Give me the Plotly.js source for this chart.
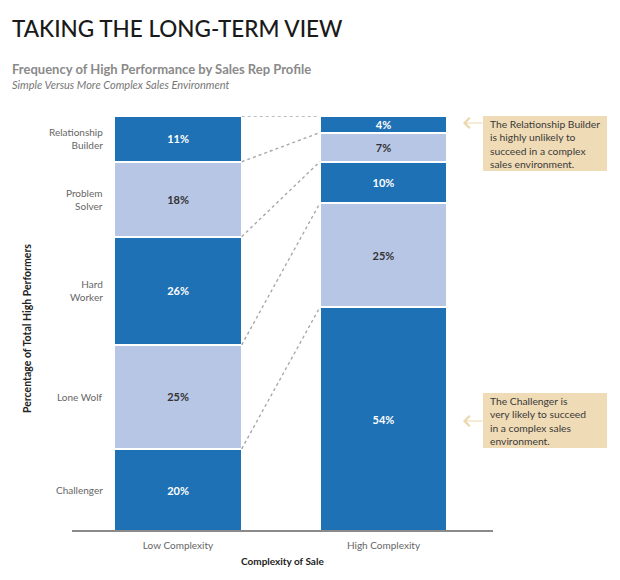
<!DOCTYPE html>
<html>
<head>
<meta charset="utf-8">
<script src="https://cdn.plot.ly/plotly-3.0.1.min.js"></script>
<style>html,body{margin:0;padding:0;background:#fff}#chart{width:620px;height:580px}</style>
</head>
<body>
<div id="chart"></div>
<script>
// ---- data ----
var complexity = ['Low Complexity', 'High Complexity'];
var profiles = ['Challenger', 'Lone Wolf', 'Hard Worker', 'Problem Solver', 'Relationship Builder'];
var profileLabels = ['Challenger', 'Lone Wolf', 'Hard<br>Worker', 'Problem<br>Solver', 'Relationship<br>Builder'];
var lowValues = [20, 25, 26, 18, 11];
var highValues = [54, 25, 10, 7, 4];
var callout1 = 'The Relationship Builder<br>is highly unlikely to<br>succeed in a complex<br>sales environment.';
var callout2 = 'The Challenger is<br>very likely to succeed<br>in a complex sales<br>environment.';

// ---- styling ----
var DARK = '#1f71b5', LIGHT = '#b8c6e6', TAN = '#efdbb5';
var FONT = 'Lato, "Open Sans", sans-serif';
var BARW = 0.62;
// pixel helpers (plot area: left 72, width 421, top 116, height 416)
function px(x) { return (x - 72) / 421; }
function py(y) { return (532 - y) / 416; }

var traces = profiles.map(function (p, i) {
  var dark = (i % 2 === 0);
  return {
    type: 'bar',
    name: p,
    x: complexity,
    y: [lowValues[i], highValues[i]],
    width: BARW,
    text: [lowValues[i] + '%', highValues[i] + '%'],
    textposition: 'inside',
    insidetextanchor: 'middle',
    constraintext: 'none',
    textfont: {family: FONT, size: 11, color: dark ? '#ffffff' : '#333333', weight: 'bold'},
    marker: {color: dark ? DARK : LIGHT, line: {color: '#ffffff', width: 2}},
    hoverinfo: 'skip',
    showlegend: false
  };
});

// cumulative tops for connector lines
var shapes = [];
var cumL = 0, cumH = 0;
var mids = [];
for (var i = 0; i < profiles.length; i++) {
  mids.push(cumL + lowValues[i] / 2);
  cumL += lowValues[i];
  cumH += highValues[i];
  shapes.push({
    type: 'line', xref: 'x', yref: 'y',
    x0: BARW / 2, y0: cumL, x1: 1 - BARW / 2, y1: cumH,
    line: {color: '#a8a8a8', width: 1.4, dash: '3px,3px'}
  });
}
// baseline
shapes.push({type: 'line', xref: 'paper', yref: 'y', x0: 0, x1: 1, y0: 0, y1: 0,
  line: {color: '#8a8a8a', width: 4}});
// callout boxes
shapes.push({type: 'rect', xref: 'paper', yref: 'paper', x0: px(483), x1: px(607),
  y0: py(116), y1: py(171), fillcolor: TAN, line: {width: 0}, layer: 'below'});
shapes.push({type: 'rect', xref: 'paper', yref: 'paper', x0: px(483), x1: px(607),
  y0: py(393), y1: py(448), fillcolor: TAN, line: {width: 0}, layer: 'below'});

var annotations = [
  {text: 'TAKING THE LONG-TERM VIEW', xref: 'paper', yref: 'paper', x: px(10), y: py(28),
   xanchor: 'left', yanchor: 'middle', showarrow: false,
   font: {family: FONT, size: 22.5, color: '#1a1a1a', weight: 500}},
  {text: 'Frequency of High Performance by Sales Rep Profile', xref: 'paper', yref: 'paper',
   x: px(10), y: py(69), xanchor: 'left', yanchor: 'middle', showarrow: false,
   font: {family: FONT, size: 13, color: '#8a8a8a', weight: 'bold'}},
  {text: '<i>Simple Versus More Complex Sales Environment</i>', xref: 'paper', yref: 'paper',
   x: px(10), y: py(84), xanchor: 'left', yanchor: 'middle', showarrow: false,
   font: {family: FONT, size: 11, color: '#777777'}},
  {text: 'Percentage of Total High Performers', xref: 'paper', yref: 'paper',
   x: px(27), y: py(329), textangle: -90, xanchor: 'center', yanchor: 'middle', showarrow: false,
   font: {family: FONT, size: 10.5, color: '#222222', weight: 'bold'}},
  {text: 'Complexity of Sale', xref: 'paper', yref: 'paper',
   x: px(282), y: py(561), xanchor: 'center', yanchor: 'middle', showarrow: false,
   font: {family: FONT, size: 10, color: '#222222', weight: 'bold'}},
  {text: callout1, xref: 'paper', yref: 'paper', x: px(489), y: py(143.5),
   xanchor: 'left', yanchor: 'middle', align: 'left', showarrow: false, borderpad: 0,
   font: {family: FONT, size: 10.3, color: '#3a3a3a'}},
  {text: callout2, xref: 'paper', yref: 'paper', x: px(489), y: py(420.5),
   xanchor: 'left', yanchor: 'middle', align: 'left', showarrow: false, borderpad: 0,
   font: {family: FONT, size: 10.3, color: '#3a3a3a'}},
  {text: '', xref: 'paper', yref: 'paper', x: px(463), y: py(123), showarrow: true,
   ax: 21, ay: 0, arrowhead: 4, arrowsize: 2, arrowwidth: 1, arrowcolor: '#ecd6ac'},
  {text: '', xref: 'paper', yref: 'paper', x: px(463), y: py(421), showarrow: true,
   ax: 21, ay: 0, arrowhead: 4, arrowsize: 2, arrowwidth: 1, arrowcolor: '#ecd6ac'}
];
profileLabels.forEach(function (lab, i) {
  annotations.push({text: lab, xref: 'paper', yref: 'y', x: px(105), y: mids[i],
    xanchor: 'right', yanchor: 'middle', align: 'right', showarrow: false,
    font: {family: FONT, size: 10, color: '#666666'}});
});

var layout = {
  width: 620, height: 580,
  margin: {l: 72, r: 127, t: 116, b: 48, pad: 0},
  paper_bgcolor: '#ffffff', plot_bgcolor: '#ffffff',
  barmode: 'stack',
  font: {family: FONT},
  xaxis: {type: 'category', range: [-0.516, 1.533], showgrid: false, zeroline: false,
    showline: false, ticks: '', ticklabelstandoff: 6,
    tickfont: {family: FONT, size: 10, color: '#666666'}},
  yaxis: {range: [0, 100], showgrid: false, zeroline: false, showline: false,
    showticklabels: false, ticks: ''},
  shapes: shapes,
  annotations: annotations
};

Plotly.newPlot('chart', traces, layout, {displayModeBar: false, staticPlot: true});
</script>
</body>
</html>
